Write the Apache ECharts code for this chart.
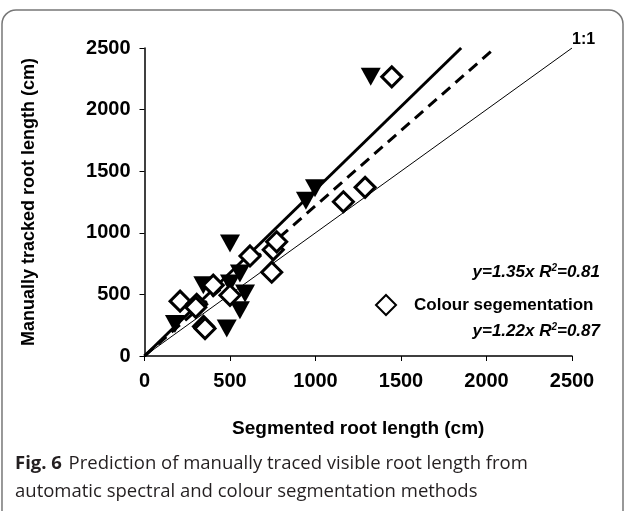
<!DOCTYPE html>
<html>
<head>
<meta charset="utf-8">
<script src="https://cdn.jsdelivr.net/npm/echarts@6/dist/echarts.min.js"></script>
<style>
  html, body { margin: 0; padding: 0; background: #fff; }
  #chart { width: 626px; height: 511px; }
</style>
</head>
<body>
<div id="chart"></div>
<script>
// spectral segmentation (filled triangles): [segmented, manual]
const spectralPoints = [
    [178, 260], [344, 575], [481, 223], [500, 914], [500, 589], [558, 670],
    [588, 507], [558, 372], [944, 1260], [997, 1361], [1323, 2266]
]
// colour segmentation (open diamonds)
const colourPoints = [
    [208, 445], [305, 420], [300, 395], [345, 240], [354, 223], [402, 575],
    [500, 493], [617, 812], [744, 680], [753, 862], [773, 927],
    [1163, 1252], [1290, 1369], [1446, 2266]
]
const axisTicks = [0, 500, 1000, 1500, 2000, 2500]
const slopeSpectral = 1.35
const slopeColour = 1.22
const fitTop = 2500

const lineTo = (slope) => [[0, 0], [fitTop / slope, fitTop]]

const chart = echarts.init(document.getElementById('chart'))
const boldFont = 'Liberation Sans'

const option = {
    animation: false,
    grid: { left: 144.5, right: 54, top: 48, bottom: 155 },
    xAxis: {
        type: 'value',
        min: axisTicks[0],
        max: axisTicks[axisTicks.length - 1],
        interval: 500,
        name: 'Segmented root length (cm)',
        nameLocation: 'middle',
        nameGap: 63,
        nameTextStyle: { fontFamily: boldFont, fontWeight: 'bold', fontSize: 19, color: '#000' },
        axisLine: { lineStyle: { color: '#000', width: 1.5 } },
        axisTick: { show: true, length: 5, lineStyle: { color: '#000' } },
        axisLabel: {
            fontFamily: boldFont, fontWeight: 'bold', fontSize: 20, color: '#000', margin: 15,
            formatter: (v) => String(v)
        },
        splitLine: { show: false }
    },
    yAxis: {
        type: 'value',
        min: axisTicks[0],
        max: axisTicks[axisTicks.length - 1],
        interval: 500,
        name: 'Manually tracked root length (cm)',
        nameLocation: 'middle',
        nameGap: 106,
        nameTextStyle: { fontFamily: boldFont, fontWeight: 'bold', fontSize: 18, color: '#000' },
        axisLine: { show: true, lineStyle: { color: '#000', width: 1.5 } },
        axisTick: { show: true, length: 5, lineStyle: { color: '#000' } },
        axisLabel: {
            fontFamily: boldFont, fontWeight: 'bold', fontSize: 20, color: '#000', margin: 14,
            formatter: (v) => String(v)
        },
        splitLine: { show: false }
    },
    legend: {
        data: ['Colour segementation'],
        left: 370,
        top: 289,
        itemWidth: 20,
        itemHeight: 20,
        itemGap: 10,
        textStyle: { fontFamily: boldFont, fontWeight: 'bold', fontSize: 17, color: '#000', padding: [0, 0, 0, 13] }
    },
    series: [
        {
            name: '1:1',
            type: 'line',
            data: [[0, 0], [fitTop, fitTop]],
            showSymbol: false,
            silent: true,
            lineStyle: { color: '#000', width: 1 },
            z: 1
        },
        {
            name: 'spectral fit',
            type: 'line',
            data: lineTo(slopeSpectral),
            showSymbol: false,
            silent: true,
            lineStyle: { color: '#000', width: 3 },
            z: 1
        },
        {
            name: 'colour fit',
            type: 'line',
            data: lineTo(slopeColour),
            showSymbol: false,
            silent: true,
            lineStyle: { color: '#000', width: 3, type: [11, 7] },
            z: 1
        },
        {
            name: 'Spectral segmentation',
            type: 'scatter',
            data: spectralPoints,
            symbol: 'triangle',
            symbolRotate: 180,
            symbolSize: [20, 18],
            itemStyle: { color: '#000', opacity: 1 },
            z: 3
        },
        {
            name: 'Colour segementation',
            type: 'scatter',
            data: colourPoints,
            symbol: 'diamond',
            symbolSize: [20, 20],
            itemStyle: { color: '#fff', borderColor: '#000', borderWidth: 3, opacity: 1 },
            z: 4
        }
    ],
    graphic: [
        {
            type: 'rect',
            shape: { x: 2, y: 10, width: 621, height: 530, r: 14 },
            style: { fill: 'none', stroke: '#777', lineWidth: 1.5 },
            silent: true
        },
        {
            type: 'text', left: 572, top: 32,
            style: { text: '1:1', font: 'bold 16px "Liberation Sans"', fill: '#000' }
        },
        {
            type: 'text', right: 26, top: 263,
            style: {
                text: '{t|y=1.35x R}{s|2}{t|=0.81}',
                rich: {
                    t: { font: 'italic bold 17px "Liberation Sans"', fill: '#000' },
                    s: { font: 'italic bold 10px "Liberation Sans"', fill: '#000', verticalAlign: 'top', padding: [0, 0, 8, 0] }
                }
            }
        },
        {
            type: 'text', right: 26, top: 322,
            style: {
                text: '{t|y=1.22x R}{s|2}{t|=0.87}',
                rich: {
                    t: { font: 'italic bold 17px "Liberation Sans"', fill: '#000' },
                    s: { font: 'italic bold 10px "Liberation Sans"', fill: '#000', verticalAlign: 'top', padding: [0, 0, 8, 0] }
                }
            }
        },
        {
            type: 'text', left: 15, top: 454,
            style: {
                text: '{b|Fig. 6}  {n|Prediction of manually traced visible root length from}\n{n|automatic spectral and colour segmentation methods}',
                rich: {
                    b: { font: 'bold 18.5px "Open Sans"', fill: '#231f20', lineHeight: 28 },
                    n: { font: '18.5px "Open Sans"', fill: '#231f20', lineHeight: 28 }
                }
            }
        }
    ]
}

chart.setOption(option)
</script>
</body>
</html>
